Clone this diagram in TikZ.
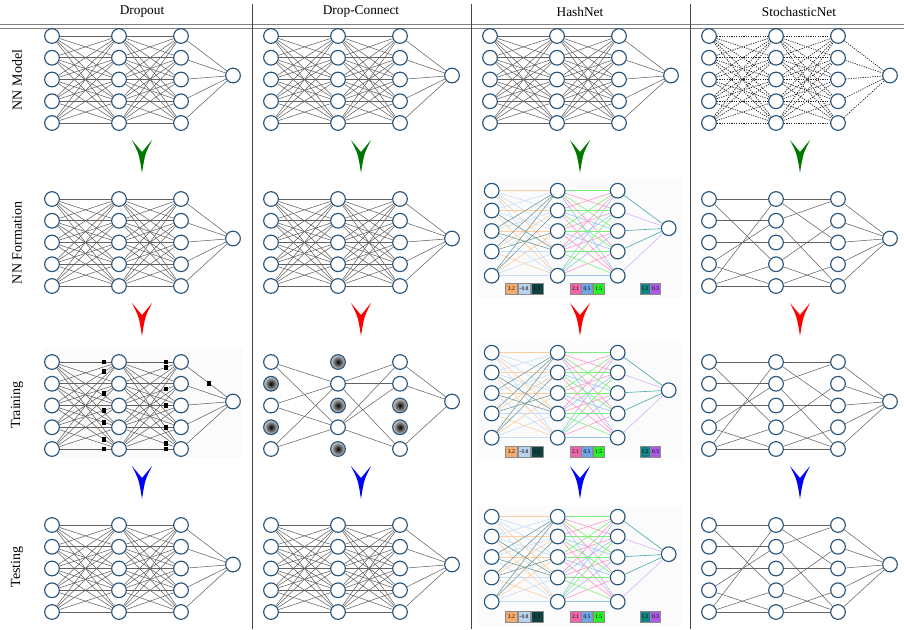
\documentclass[tikz,border=0pt]{standalone}
\usepackage{fontspec}
\setmainfont{Liberation Serif}
\usetikzlibrary{calc}

% palette
\definecolor{NodeBlue}{RGB}{40,85,125}
\definecolor{ArrowGreen}{RGB}{0,120,0}
\definecolor{ArrowRed}{RGB}{255,0,0}
\definecolor{ArrowBlue}{RGB}{0,0,255}
% hashed weight buckets: edge tints and key cell fills
\definecolor{EdgeOrange}{RGB}{252,205,160}
\definecolor{EdgeLBlue}{RGB}{200,222,248}
\definecolor{EdgeDTeal}{RGB}{120,155,155}
\definecolor{EdgePink}{RGB}{255,150,200}
\definecolor{EdgeBlue}{RGB}{155,195,242}
\definecolor{EdgeGreen}{RGB}{125,238,125}
\definecolor{EdgeTeal}{RGB}{70,170,170}
\definecolor{EdgePurple}{RGB}{215,180,248}
\definecolor{KeyOrange}{RGB}{245,170,110}
\definecolor{KeyLBlue}{RGB}{185,210,240}
\definecolor{KeyDTeal}{RGB}{15,65,65}
\definecolor{KeyPink}{RGB}{240,100,170}
\definecolor{KeyBlue}{RGB}{110,165,230}
\definecolor{KeyGreen}{RGB}{40,240,40}
\definecolor{KeyTeal}{RGB}{20,130,130}
\definecolor{KeyPurple}{RGB}{170,90,230}
% inner/outer shading colours: w = kept unit, k = dropped unit
\colorlet{ciw}{white}
\colorlet{cow}{white}
\colorlet{cik}{black}
\colorlet{cok}{gray!35}

\tikzset{
  neuron/.style={circle, draw=NodeBlue, line width=0.85pt, fill=white,
    minimum size=11pt, inner sep=0pt},
  conn/.style={draw=black!62, line width=0.4pt},
  dotconn/.style={draw=black!85, line width=0.55pt, dash pattern=on 0.9pt off 0.9pt},
  hashedge/.style={line width=0.45pt},
  keycell/.style={draw=black!45, line width=0.4pt, minimum height=8pt,
    inner sep=0pt, font=\fontsize{4.2}{5}\selectfont},
  squaremark/.style={rectangle, fill=black, minimum size=3.6pt, inner sep=0pt},
  header/.style={font=\fontsize{10}{12}\selectfont},
  rowlabel/.style={font=\fontsize{10.5}{12}\selectfont, rotate=90},
  divider/.style={draw=black!72, line width=0.7pt},
  hrule/.style={draw=black!50, line width=0.6pt},
  panelbg/.style={fill=black!1.5, draw=none}
}

% standard 5-5-5-1 network: name, x of first layer, y of top row
\newcommand{\stdnet}[3]{%
  \foreach \r in {1,...,5}{%
    \node[neuron] (#1-a\r) at (#2, #3+21.75*\r-21.75) {};
    \node[neuron] (#1-b\r) at (#2+67, #3+21.75*\r-21.75) {};
    \node[neuron] (#1-c\r) at (#2+129, #3+21.75*\r-21.75) {};}
  \node[neuron] (#1-o) at (#2+181, #3+39.5) {};}

% HashNet layout: name, y of top row
\newcommand{\hashnet}[2]{%
  \foreach \r/\dy in {1/0,2/19.8,3/40.3,4/60.8,5/85}{%
    \node[neuron] (#1-a\r) at (491.7, #2+\dy) {};
    \node[neuron] (#1-b\r) at (557.7, #2+\dy) {};
    \node[neuron] (#1-c\r) at (617.7, #2+\dy) {};}
  \node[neuron] (#1-o) at (668.7, #2+37.5) {};}

% all-to-all connections
\newcommand{\fulledges}[2]{%
  \foreach \i in {1,...,5}{%
    \foreach \j in {1,...,5}{%
      \draw[#2] (#1-a\i) -- (#1-b\j);
      \draw[#2] (#1-b\i) -- (#1-c\j);}
    \draw[#2] (#1-c\i) -- (#1-o);}}

% sparse random connections of StochasticNet
\newcommand{\sparseedges}[1]{%
  \foreach \i/\j in {1/1,1/4,2/2,3/3,4/2,4/5,5/1,5/4,5/5}
    \draw[conn] (#1-a\i) -- (#1-b\j);
  \foreach \i/\j in {1/1,1/3,2/1,2/5,3/3,4/2,4/5,5/4,5/5}
    \draw[conn] (#1-b\i) -- (#1-c\j);
  \foreach \i in {1,...,5}
    \draw[conn] (#1-c\i) -- (#1-o);}

% connections coloured by hash bucket
\newcommand{\hashedges}[1]{%
  \foreach \i/\j in {1/2,1/3,1/5,2/1,2/3,3/2,3/5,4/4,5/4,5/5}
    \draw[hashedge, draw=EdgeLBlue] (#1-a\i) -- (#1-b\j);
  \foreach \i/\j in {1/1,1/4,2/2,2/5,3/3,4/2,4/5,5/3}
    \draw[hashedge, draw=EdgeOrange] (#1-a\i) -- (#1-b\j);
  \foreach \i/\j in {2/4,3/1,3/4,4/1,4/3,5/1,5/2}
    \draw[hashedge, draw=EdgeDTeal] (#1-a\i) -- (#1-b\j);
  \foreach \i/\j in {1/5,2/3,3/4,4/2,5/1,5/3,5/5}
    \draw[hashedge, draw=EdgeBlue] (#1-b\i) -- (#1-c\j);
  \foreach \i/\j in {1/2,1/4,2/1,2/5,3/2,3/5,4/1,4/3,5/4}
    \draw[hashedge, draw=EdgePink] (#1-b\i) -- (#1-c\j);
  \foreach \i/\j in {1/1,1/3,2/2,2/4,3/1,3/3,4/4,4/5,5/2}
    \draw[hashedge, draw=EdgeGreen] (#1-b\i) -- (#1-c\j);
  \foreach \i in {2,5}
    \draw[hashedge, draw=EdgePurple] (#1-c\i) -- (#1-o);
  \foreach \i in {1,3,4}
    \draw[hashedge, draw=EdgeTeal] (#1-c\i) -- (#1-o);}

% shared weight values under a HashNet panel: name, y
\newcommand{\hashkeys}[2]{%
  \node[keycell, fill=KeyOrange, minimum width=9.2pt] (#1-k1) at (511.3,#2) {3.2};
  \node[keycell, fill=KeyLBlue, minimum width=9.2pt, anchor=west] (#1-k2) at (#1-k1.east) {-0.8};
  \node[keycell, fill=KeyDTeal, minimum width=9.2pt, anchor=west] (#1-k3) at (#1-k2.east) {1.1};
  \node[keycell, fill=KeyPink, minimum width=8.25pt] (#1-k4) at (575.5,#2) {2.1};
  \node[keycell, fill=KeyBlue, minimum width=8.25pt, anchor=west] (#1-k5) at (#1-k4.east) {0.5};
  \node[keycell, fill=KeyGreen, minimum width=8.25pt, anchor=west] (#1-k6) at (#1-k5.east) {1.5};
  \node[keycell, fill=KeyTeal, minimum width=7.5pt] (#1-k7) at (645,#2) {1.2};
  \node[keycell, fill=KeyPurple, minimum width=7.5pt, anchor=west] (#1-k8) at (#1-k7.east) {0.3};}

% downward chevron between stages: centre x, top y, colour
\newcommand{\chevron}[3]{%
  \fill[#3] (#1-10,#2) -- (#1,#2+12) -- (#1+10,#2)
    .. controls (#1+3,#2+14) .. (#1,#2+33)
    .. controls (#1-3,#2+14) .. (#1-10,#2) -- cycle;}

\begin{document}
\begin{tikzpicture}[x=0.75pt, y=-0.75pt]
\useasboundingbox (0,0) rectangle (904,629);

% table frame
\draw[hrule] (0,24) -- (904,24);
\draw[hrule] (0,28) -- (904,28);
\foreach \x in {252.5,471,690}
  \draw[divider] (\x,4) -- (\x,629);

% column headers
\node[header] (hd1) at (142,12) {Dropout};
\node[header] (hd2) at (361,12) {Drop-Connect};
\node[header] (hd3) at (580,12) {HashNet};
\node[header] (hd4) at (799,12) {StochasticNet};

% stage labels
\node[rowlabel] (st1) at (17,80) {NN Model};
\node[rowlabel] (st2) at (17,243) {NN Formation};
\node[rowlabel] (st3) at (17,405) {Training};
\node[rowlabel] (st4) at (17,567) {Testing};

% light panel backgrounds
\fill[panelbg] (43,348) rectangle (243,458);
\fill[panelbg] (478,177) rectangle (682,298);
\fill[panelbg] (478,343) rectangle (682,460);
\fill[panelbg] (478,505) rectangle (682,626);

% ---------- Dropout ----------
\stdnet{dm}{52}{36}
\fulledges{dm}{conn}
\stdnet{df}{52}{199}
\fulledges{df}{conn}
\stdnet{dt}{52}{362}
\fulledges{dt}{conn}
\foreach \n/\i/\j in {1/1/1,2/3/1,3/4/2,4/4/3,5/3/4,6/3/5,7/5/5}
  \node[squaremark] (dq\n) at ($(dt-a\i)!0.776!(dt-b\j)$) {};
\foreach \n/\i/\j in {1/1/1,2/2/1,3/3/2,4/3/3,5/4/4,6/4/5,7/5/5}
  \node[squaremark] (dr\n) at ($(dt-b\i)!0.758!(dt-c\j)$) {};
\node[squaremark] (ds1) at ($(dt-c1)!0.54!(dt-o)$) {};
\stdnet{de}{52}{525}
\fulledges{de}{conn}

% ---------- Drop-Connect ----------
\stdnet{cm}{271}{36}
\fulledges{cm}{conn}
\stdnet{cf}{271}{199}
\fulledges{cf}{conn}
\foreach \r/\sa/\sb/\sc in {1/w/k/w,2/k/w/w,3/w/k/k,4/k/w/k,5/w/k/w}{%
  \node[neuron, inner color=ci\sa, outer color=co\sa] (ct-a\r) at (271, 362+21.75*\r-21.75) {};
  \node[neuron, inner color=ci\sb, outer color=co\sb] (ct-b\r) at (338, 362+21.75*\r-21.75) {};
  \node[neuron, inner color=ci\sc, outer color=co\sc] (ct-c\r) at (400, 362+21.75*\r-21.75) {};}
\node[neuron] (ct-o) at (452, 401.5) {};
\foreach \i in {1,3,5}
  \foreach \j in {2,4}
    \draw[conn] (ct-a\i) -- (ct-b\j);
\foreach \i in {2,4}
  \foreach \j in {1,2,5}
    \draw[conn] (ct-b\i) -- (ct-c\j);
\foreach \i in {1,2,5}
  \draw[conn] (ct-c\i) -- (ct-o);
\stdnet{ce}{271}{525}
\fulledges{ce}{conn}

% ---------- HashNet ----------
\stdnet{hm}{490}{36}
\fulledges{hm}{conn}
\hashnet{hf}{190.7}
\hashedges{hf}
\hashkeys{hf}{288.5}
\hashnet{ht}{352.7}
\hashedges{ht}
\hashkeys{ht}{452}
\hashnet{he}{516.7}
\hashedges{he}
\hashkeys{he}{617}

% ---------- StochasticNet ----------
\stdnet{sm}{709}{36}
\fulledges{sm}{dotconn}
\stdnet{sf}{709}{199}
\sparseedges{sf}
\stdnet{st}{709}{362}
\sparseedges{st}
\stdnet{se}{709}{525}
\sparseedges{se}

% stage transitions
\foreach \cx in {142,361,580,800}{%
  \chevron{\cx}{140}{ArrowGreen}
  \chevron{\cx}{303}{ArrowRed}
  \chevron{\cx}{466}{ArrowBlue}}
\end{tikzpicture}
\end{document}
